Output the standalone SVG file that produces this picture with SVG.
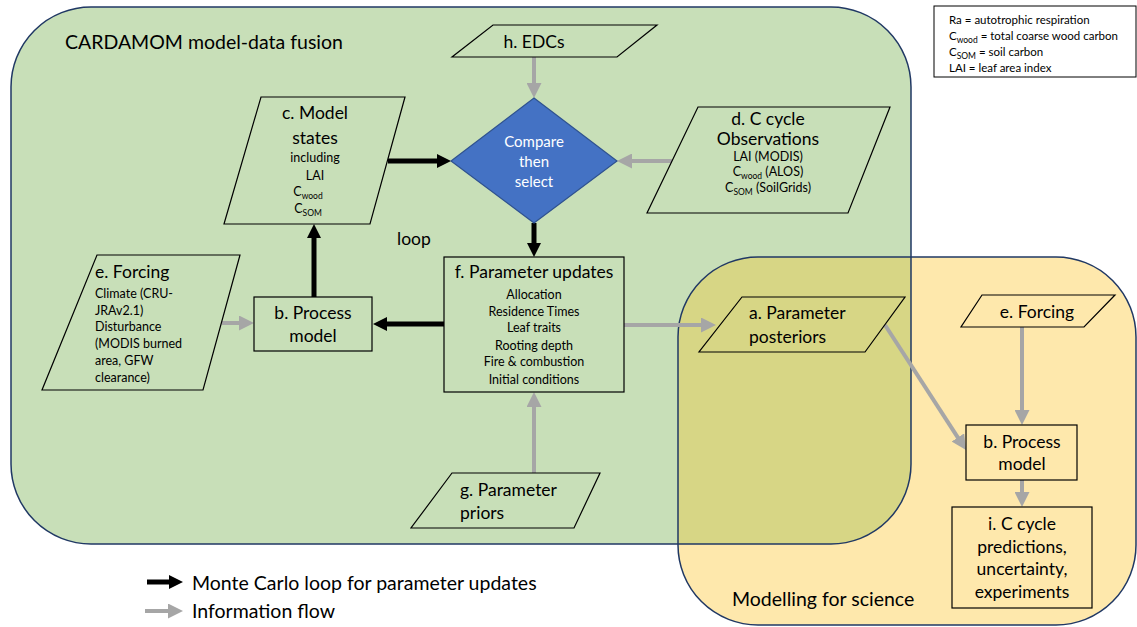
<svg xmlns="http://www.w3.org/2000/svg" width="1137" height="627" viewBox="0 0 1137 627">
<style>
text{font-family:Lato,"Open Sans","Liberation Sans",sans-serif;fill:#000}
.t{font-size:17.5px}
.s{font-size:12.5px}
.big{font-size:19.5px}
.c{text-anchor:middle}
.nd{fill:none;stroke:#000;stroke-width:1.2}
.blk{stroke:#000;stroke-width:5;fill:none}
.gry{stroke:#a6a6a6;stroke-width:4;fill:none}
.sub{font-size:8.5px}
.k{font-size:11.5px}
</style>
<defs>
<marker id="ab" viewBox="0 0 14 14" refX="1" refY="7" markerWidth="14" markerHeight="14" markerUnits="userSpaceOnUse" orient="auto"><path d="M0,0 L14,7 L0,14 z" fill="#000"/></marker>
<marker id="ag" viewBox="0 0 15 15" refX="1" refY="7.5" markerWidth="15" markerHeight="15" markerUnits="userSpaceOnUse" orient="auto"><path d="M0,0 L15,7.5 L0,15 z" fill="#a6a6a6"/></marker>
<clipPath id="yc"><rect x="678" y="257" width="458" height="368" rx="80"/></clipPath>
</defs>
<rect width="1137" height="627" fill="#fff"/>
<g id="containers">
<rect x="11" y="7" width="900" height="537" rx="80" fill="#c8dfb8"/>
<rect x="678" y="257" width="458" height="368" rx="80" fill="#fee8ac"/>
<rect x="11" y="7" width="900" height="537" rx="80" fill="#d7d685" clip-path="url(#yc)"/>
<rect x="11" y="7" width="900" height="537" rx="80" fill="none" stroke="#203864" stroke-width="1.5"/>
<rect x="678" y="257" width="458" height="368" rx="80" fill="none" stroke="#203864" stroke-width="1.5"/>
<text x="65" y="49" class="big">CARDAMOM model-data fusion</text>
<text x="732" y="606" class="big">Modelling for science</text>
<text x="397" y="245" class="t">loop</text>
</g>
<g id="key">
<rect x="934" y="6" width="202" height="71" fill="#fff" stroke="#000" stroke-width="1"/>
<text x="949" y="24" class="k">Ra = autotrophic respiration</text>
<text x="949" y="40" class="k">C<tspan class="sub" dy="3">wood</tspan><tspan dy="-3"> = total coarse wood carbon</tspan></text>
<text x="949" y="56" class="k">C<tspan class="sub" dy="3">SOM</tspan><tspan dy="-3"> = soil carbon</tspan></text>
<text x="949" y="72" class="k">LAI = leaf area index</text>
</g>
<g id="connectors">
<line x1="534" y1="57" x2="534" y2="84" class="gry" marker-end="url(#ag)"/>
<line x1="672" y1="161" x2="631" y2="161" class="gry" marker-end="url(#ag)"/>
<line x1="388" y1="161" x2="438" y2="161" class="blk" marker-end="url(#ab)"/>
<line x1="534" y1="223" x2="534" y2="244" class="blk" marker-end="url(#ab)"/>
<line x1="444" y1="324" x2="386" y2="324" class="blk" marker-end="url(#ab)"/>
<line x1="314" y1="297" x2="314" y2="237" class="blk" marker-end="url(#ab)"/>
<line x1="222" y1="323" x2="240" y2="323" class="gry" marker-end="url(#ag)"/>
<line x1="534" y1="473" x2="534" y2="406" class="gry" marker-end="url(#ag)"/>
<line x1="624" y1="325" x2="702" y2="325" class="gry" marker-end="url(#ag)"/>
<line x1="885" y1="325" x2="958.4" y2="438.3" class="gry" marker-end="url(#ag)"/>
<line x1="1022" y1="327" x2="1022" y2="411" class="gry" marker-end="url(#ag)"/>
<line x1="1022" y1="480" x2="1022" y2="493" class="gry" marker-end="url(#ag)"/>
</g>
<g id="h-edcs">
<polygon points="493,25 657,25 617,57 452,57" class="nd"/>
<text x="534" y="48" class="t c">h. EDCs</text>
</g>
<g id="compare">
<polygon points="534,98 617,161 534,223 451,161" fill="#4472c4" stroke="#2f528f" stroke-width="1.2"/>
<text x="534" y="147" class="c" style="font-size:15px;fill:#fff">Compare</text>
<text x="534" y="167" class="c" style="font-size:15px;fill:#fff">then</text>
<text x="534" y="187" class="c" style="font-size:15px;fill:#fff">select</text>
</g>
<g id="c-model-states">
<polygon points="261,97 405,97 370,224 224,224" class="nd"/>
<text x="315" y="119" class="t c">c. Model</text>
<text x="315" y="144" class="t c">states</text>
<text x="315" y="162" class="s c">including</text>
<text x="315" y="180" class="s c">LAI</text>
<text x="308" y="196" class="s c">C<tspan class="sub" dy="3">wood</tspan></text>
<text x="308" y="213" class="s c">C<tspan class="sub" dy="3">SOM</tspan></text>
</g>
<g id="d-observations">
<polygon points="698,107 890,107 848,213 647,213" class="nd"/>
<text x="768" y="125" class="t c">d. C cycle</text>
<text x="768" y="145" class="t c">Observations</text>
<text x="768" y="161" class="s c">LAI (MODIS)</text>
<text x="768" y="176" class="s c">C<tspan class="sub" dy="3">wood</tspan><tspan dy="-3"> (ALOS)</tspan></text>
<text x="768" y="192" class="s c">C<tspan class="sub" dy="3">SOM</tspan><tspan dy="-3"> (SoilGrids)</tspan></text>
</g>
<g id="e-forcing">
<polygon points="97,255 240,255 203,390 42,390" class="nd"/>
<text x="95" y="278" class="t">e. Forcing</text>
<text x="95" y="298" class="s">Climate (CRU-</text>
<text x="95" y="315" class="s">JRAv2.1)</text>
<text x="95" y="331" class="s">Disturbance</text>
<text x="95" y="348" class="s">(MODIS burned</text>
<text x="95" y="365" class="s">area, GFW</text>
<text x="95" y="382" class="s">clearance)</text>
</g>
<g id="b-process">
<rect x="254" y="297" width="118" height="54" class="nd"/>
<text x="313" y="319" class="t c">b. Process</text>
<text x="313" y="342" class="t c">model</text>
</g>
<g id="f-parameter-updates">
<rect x="444" y="257" width="180" height="135" class="nd"/>
<text x="534" y="278" class="t c">f. Parameter updates</text>
<text x="534" y="299" class="s c">Allocation</text>
<text x="534" y="316" class="s c">Residence Times</text>
<text x="534" y="332" class="s c">Leaf traits</text>
<text x="534" y="350" class="s c">Rooting depth</text>
<text x="534" y="366" class="s c">Fire &amp; combustion</text>
<text x="534" y="384" class="s c">Initial conditions</text>
</g>
<g id="g-priors">
<polygon points="452,473 600,473 574,528 411,528" class="nd"/>
<text x="460" y="496" class="t">g. Parameter</text>
<text x="460" y="519" class="t">priors</text>
</g>
<g id="a-posteriors">
<polygon points="742,297 905,297 865,352 699,352" class="nd"/>
<text x="749" y="319" class="t">a. Parameter</text>
<text x="749" y="343" class="t">posteriors</text>
</g>
<g id="e-forcing-2">
<polygon points="982,295 1115,295 1084,327 961,327" class="nd"/>
<text x="1037" y="318" class="t c">e. Forcing</text>
</g>
<g id="b-process-2">
<rect x="966" y="425" width="111" height="55" class="nd"/>
<text x="1022" y="448" class="t c">b. Process</text>
<text x="1022" y="470" class="t c">model</text>
</g>
<g id="i-predictions">
<rect x="952" y="507" width="140" height="101" class="nd"/>
<text x="1022" y="530" class="t c">i. C cycle</text>
<text x="1022" y="553" class="t c">predictions,</text>
<text x="1022" y="575" class="t c">uncertainty,</text>
<text x="1022" y="598" class="t c">experiments</text>
</g>
<g id="legend">
<line x1="147" y1="582" x2="170" y2="582" class="blk" marker-end="url(#ab)"/>
<line x1="145" y1="611" x2="169" y2="611" class="gry" marker-end="url(#ag)"/>
<text x="192" y="590" class="big">Monte Carlo loop for parameter updates</text>
<text x="192" y="618" class="big">Information flow</text>
</g>
</svg>
